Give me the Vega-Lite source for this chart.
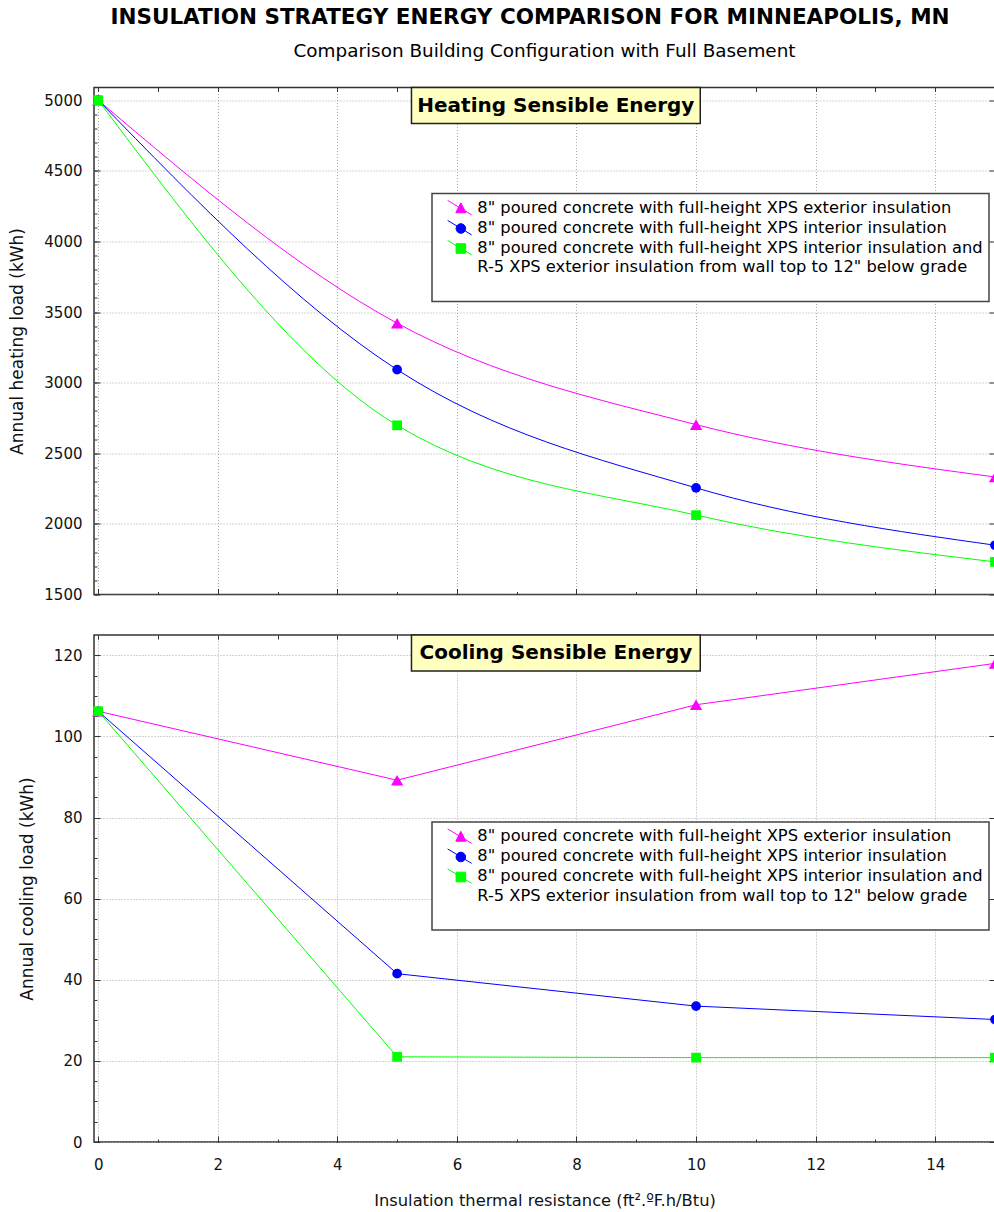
{
  "$schema": "https://vega.github.io/schema/vega-lite/v6.json",
  "padding": {"left": 8, "top": 6.5, "right": 0, "bottom": 0},
  "background": "white",
  "title": {
    "text": "INSULATION STRATEGY ENERGY COMPARISON FOR MINNEAPOLIS, MN",
    "font": "DejaVu Sans", "fontSize": 21.5, "fontWeight": "bold", "color": "#000",
    "anchor": "middle", "offset": 13, "dx": 25
  },
  "config": {
    "font": "DejaVu Sans",
    "view": {"stroke": "#333", "strokeWidth": 1.5},
    "axis": {"labelColor": "#111", "titleColor": "#111", "tickColor": "#333", "domain": false}
  },
  "datasets": {
    "heating": [
      {"series": "8\" poured concrete with full-height XPS exterior insulation", "r": 0, "load": 5000},
      {"series": "8\" poured concrete with full-height XPS exterior insulation", "r": 5, "load": 3421},
      {"series": "8\" poured concrete with full-height XPS exterior insulation", "r": 10, "load": 2703},
      {"series": "8\" poured concrete with full-height XPS exterior insulation", "r": 15, "load": 2332},
      {"series": "8\" poured concrete with full-height XPS interior insulation", "r": 0, "load": 5000},
      {"series": "8\" poured concrete with full-height XPS interior insulation", "r": 5, "load": 3092},
      {"series": "8\" poured concrete with full-height XPS interior insulation", "r": 10, "load": 2255},
      {"series": "8\" poured concrete with full-height XPS interior insulation", "r": 15, "load": 1849},
      {"series": "8\" poured concrete with full-height XPS interior insulation and R-5 XPS exterior insulation from wall top to  12\" below grade", "r": 0, "load": 5000},
      {"series": "8\" poured concrete with full-height XPS interior insulation and R-5 XPS exterior insulation from wall top to  12\" below grade", "r": 5, "load": 2698},
      {"series": "8\" poured concrete with full-height XPS interior insulation and R-5 XPS exterior insulation from wall top to  12\" below grade", "r": 10, "load": 2062},
      {"series": "8\" poured concrete with full-height XPS interior insulation and R-5 XPS exterior insulation from wall top to  12\" below grade", "r": 15, "load": 1731}
    ],
    "cooling": [
      {"series": "8\" poured concrete with full-height XPS exterior insulation", "r": 0, "load": 106.2},
      {"series": "8\" poured concrete with full-height XPS exterior insulation", "r": 5, "load": 89.2},
      {"series": "8\" poured concrete with full-height XPS exterior insulation", "r": 10, "load": 107.8},
      {"series": "8\" poured concrete with full-height XPS exterior insulation", "r": 15, "load": 118.0},
      {"series": "8\" poured concrete with full-height XPS interior insulation", "r": 0, "load": 106.2},
      {"series": "8\" poured concrete with full-height XPS interior insulation", "r": 5, "load": 41.5},
      {"series": "8\" poured concrete with full-height XPS interior insulation", "r": 10, "load": 33.5},
      {"series": "8\" poured concrete with full-height XPS interior insulation", "r": 15, "load": 30.2},
      {"series": "8\" poured concrete with full-height XPS interior insulation and R-5 XPS exterior insulation from wall top to  12\" below grade", "r": 0, "load": 106.2},
      {"series": "8\" poured concrete with full-height XPS interior insulation and R-5 XPS exterior insulation from wall top to  12\" below grade", "r": 5, "load": 21.0},
      {"series": "8\" poured concrete with full-height XPS interior insulation and R-5 XPS exterior insulation from wall top to  12\" below grade", "r": 10, "load": 20.8},
      {"series": "8\" poured concrete with full-height XPS interior insulation and R-5 XPS exterior insulation from wall top to  12\" below grade", "r": 15, "load": 20.8}
    ]
  },
  "resolve": {"scale": {"color": "independent", "shape": "independent"}},
  "spacing": 29.5,
  "vconcat": [
    {
      "width": 901, "height": 507,
      "title": {"text": "Comparison Building Configuration with Full Basement", "fontSize": 18.4, "fontWeight": "normal", "color": "#000", "anchor": "middle", "offset": 26},
      "data": {"name": "heating"},
      "resolve": {"axis": {"x": "independent", "y": "independent"}},
      "layer": [
        {
          "mark": {"type": "line", "interpolate": "monotone", "strokeWidth": 1},
          "encoding": {
            "x": {"field": "r", "type": "quantitative", "scale": {"domain": [-0.07, 15], "nice": false, "zero": false},
              "axis": {"orient": "bottom", "values": [0, 2, 4, 6, 8, 10, 12, 14], "labels": false, "title": null, "grid": true, "gridColor": "#aaaaaa", "gridDash": [1, 2], "tickSize": -6}},
            "y": {"field": "load", "type": "quantitative", "scale": {"domain": [1500, 5090], "nice": false, "zero": false},
              "axis": {"orient": "left", "values": [1500, 2000, 2500, 3000, 3500, 4000, 4500, 5000], "format": "d", "grid": true, "gridColor": "#aaaaaa", "gridDash": [1, 2], "tickSize": -6, "labelPadding": 18, "labelFontSize": 15, "title": "Annual heating load (kWh)", "titleFontSize": 17, "titleFontWeight": "normal", "titlePadding": 17}},
            "color": {"field": "series", "type": "nominal", "scale": {"range": ["#FF00FF", "#0000FF", "#00FF00"]},
              "legend": {"orient": "none", "legendX": 338, "legendY": 106, "title": null, "fillColor": "white", "strokeColor": "#444", "padding": 6, "labelFontSize": 16.3, "labelColor": "#000", "labelLimit": 800, "symbolSize": 144, "rowPadding": 0, "symbolOffset": 13.5, "labelOffset": 9.5,
                "labelExpr": "indexof(datum.label, 'R-5') > 0 ? [substring(datum.label, 0, indexof(datum.label, ' R-5')), substring(datum.label, indexof(datum.label, 'R-5')), ' '] : datum.label",
                "encode": {
                  "labels": {"update": {"baseline": {"value": "top"}, "dy": {"value": -8}, "lineHeight": {"value": 19.5}}},
                  "symbols": {"update": {
                    "shape": {"signal": "indexof(datum.value, 'R-5') >= 0 ? 'M-2,-1.2L2,1.2M-0.6,-0.66L1,-0.66L1,0.94L-0.6,0.94Z' : (indexof(datum.value, 'exterior') >= 0 ? 'M-2,-1.2L2,1.2M0.2,-0.8L1.04,0.84L-0.64,0.84Z' : 'M-2,-1.2L2,1.2M-0.6,0.14A0.8,0.8 0 1,0 1,0.14A0.8,0.8 0 1,0 -0.6,0.14Z')"},
                    "fill": {"signal": "indexof(datum.value, 'R-5') >= 0 ? '#00FF00' : (indexof(datum.value, 'exterior') >= 0 ? '#FF00FF' : '#0000FF')"},
                    "stroke": {"signal": "indexof(datum.value, 'R-5') >= 0 ? '#00FF00' : (indexof(datum.value, 'exterior') >= 0 ? '#FF00FF' : '#0000FF')"},
                    "strokeWidth": {"value": 1}, "opacity": {"value": 1}}},
                  "legend": {"update": {"strokeWidth": {"value": 1.5}}}}}}
          }
        },
        {
          "mark": {"type": "point", "filled": true, "opacity": 1},
          "encoding": {
            "x": {"field": "r", "type": "quantitative",
              "axis": {"orient": "bottom", "values": [0, 1, 2, 3, 4, 5, 6, 7, 8, 9, 10, 11, 12, 13, 14, 15], "labels": false, "title": null, "grid": false, "tickSize": -3}},
            "y": {"field": "load", "type": "quantitative",
              "axis": {"orient": "left", "values": [1500, 1600, 1700, 1800, 1900, 2000, 2100, 2200, 2300, 2400, 2500, 2600, 2700, 2800, 2900, 3000, 3100, 3200, 3300, 3400, 3500, 3600, 3700, 3800, 3900, 4000, 4100, 4200, 4300, 4400, 4500, 4600, 4700, 4800, 4900, 5000], "labels": false, "title": null, "grid": false, "tickSize": -3}},
            "size": {"condition": {"test": "indexof(datum.series, 'exterior insulation') > 0 && indexof(datum.series, 'R-5') < 0", "value": 150}, "value": 95},
            "color": {"field": "series", "type": "nominal",
              "legend": {"orient": "none", "legendX": 338, "legendY": 106, "title": null, "fillColor": "white", "strokeColor": "#444", "padding": 6, "labelFontSize": 16.3, "labelColor": "#000", "labelLimit": 800, "symbolSize": 144, "rowPadding": 0, "symbolOffset": 13.5, "labelOffset": 9.5,
                "labelExpr": "indexof(datum.label, 'R-5') > 0 ? [substring(datum.label, 0, indexof(datum.label, ' R-5')), substring(datum.label, indexof(datum.label, 'R-5')), ' '] : datum.label",
                "encode": {
                  "labels": {"update": {"baseline": {"value": "top"}, "dy": {"value": -8}, "lineHeight": {"value": 19.5}}},
                  "symbols": {"update": {
                    "shape": {"signal": "indexof(datum.value, 'R-5') >= 0 ? 'M-2,-1.2L2,1.2M-0.6,-0.66L1,-0.66L1,0.94L-0.6,0.94Z' : (indexof(datum.value, 'exterior') >= 0 ? 'M-2,-1.2L2,1.2M0.2,-0.8L1.04,0.84L-0.64,0.84Z' : 'M-2,-1.2L2,1.2M-0.6,0.14A0.8,0.8 0 1,0 1,0.14A0.8,0.8 0 1,0 -0.6,0.14Z')"},
                    "fill": {"signal": "indexof(datum.value, 'R-5') >= 0 ? '#00FF00' : (indexof(datum.value, 'exterior') >= 0 ? '#FF00FF' : '#0000FF')"},
                    "stroke": {"signal": "indexof(datum.value, 'R-5') >= 0 ? '#00FF00' : (indexof(datum.value, 'exterior') >= 0 ? '#FF00FF' : '#0000FF')"},
                    "strokeWidth": {"value": 1}, "opacity": {"value": 1}}},
                  "legend": {"update": {"strokeWidth": {"value": 1.5}}}}}},
            "shape": {"field": "series", "type": "nominal", "scale": {"range": ["triangle-up", "circle", "square"]}, "legend": null}
          }
        },
        {
          "data": {"values": [{"label": "Heating Sensible Energy"}]},
          "mark": {"type": "rect", "fill": "#FFFFC0", "stroke": "#222", "strokeWidth": 1.5},
          "encoding": {
            "x": {"datum": 5.24, "type": "quantitative", "axis": {"orient": "top", "values": [0, 1, 2, 3, 4, 5, 6, 7, 8, 9, 10, 11, 12, 13, 14, 15], "labels": false, "title": null, "grid": false, "tickSize": -4}},
            "x2": {"datum": 10.07},
            "y": {"datum": 5090, "type": "quantitative", "axis": {"orient": "right", "values": [1500, 2000, 2500, 3000, 3500, 4000, 4500, 5000], "labels": false, "title": null, "grid": false, "tickSize": -6}},
            "y2": {"datum": 4835}
          }
        },
        {
          "data": {"values": [{"label": "Heating Sensible Energy"}]},
          "mark": {"type": "text", "fontSize": 20, "fontWeight": "bold", "color": "#000", "baseline": "middle", "align": "center"},
          "encoding": {
            "x": {"datum": 7.655, "type": "quantitative", "axis": null},
            "y": {"datum": 4962, "type": "quantitative", "axis": null},
            "text": {"field": "label"}
          }
        }
      ]
    },
    {
      "width": 901, "height": 507,
      "data": {"name": "cooling"},
      "resolve": {"axis": {"x": "independent", "y": "independent"}},
      "layer": [
        {
          "mark": {"type": "line", "interpolate": "linear", "strokeWidth": 1},
          "encoding": {
            "x": {"field": "r", "type": "quantitative", "scale": {"domain": [-0.07, 15], "nice": false, "zero": false},
              "axis": {"orient": "bottom", "values": [0, 2, 4, 6, 8, 10, 12, 14], "labels": true, "labelFontSize": 15, "labelPadding": 21, "title": "Insulation thermal resistance (ft².ºF.h/Btu)", "titleFontSize": 16.3, "titleFontWeight": "normal", "titlePadding": 20, "grid": true, "gridColor": "#aaaaaa", "gridDash": [1, 2], "tickSize": -6}},
            "y": {"field": "load", "type": "quantitative", "scale": {"domain": [0, 125], "nice": false, "zero": false},
              "axis": {"orient": "left", "values": [0, 20, 40, 60, 80, 100, 120], "format": "d", "grid": true, "gridColor": "#aaaaaa", "gridDash": [1, 2], "tickSize": -6, "labelPadding": 18, "labelFontSize": 15, "title": "Annual cooling load (kWh)", "titleFontSize": 17, "titleFontWeight": "normal", "titlePadding": 17}},
            "color": {"field": "series", "type": "nominal", "scale": {"range": ["#FF00FF", "#0000FF", "#00FF00"]},
              "legend": {"orient": "none", "legendX": 338, "legendY": 187, "title": null, "fillColor": "white", "strokeColor": "#444", "padding": 6, "labelFontSize": 16.3, "labelColor": "#000", "labelLimit": 800, "symbolSize": 144, "rowPadding": 0, "symbolOffset": 13.5, "labelOffset": 9.5,
                "labelExpr": "indexof(datum.label, 'R-5') > 0 ? [substring(datum.label, 0, indexof(datum.label, ' R-5')), substring(datum.label, indexof(datum.label, 'R-5')), ' '] : datum.label",
                "encode": {
                  "labels": {"update": {"baseline": {"value": "top"}, "dy": {"value": -8}, "lineHeight": {"value": 19.5}}},
                  "symbols": {"update": {
                    "shape": {"signal": "indexof(datum.value, 'R-5') >= 0 ? 'M-2,-1.2L2,1.2M-0.6,-0.66L1,-0.66L1,0.94L-0.6,0.94Z' : (indexof(datum.value, 'exterior') >= 0 ? 'M-2,-1.2L2,1.2M0.2,-0.8L1.04,0.84L-0.64,0.84Z' : 'M-2,-1.2L2,1.2M-0.6,0.14A0.8,0.8 0 1,0 1,0.14A0.8,0.8 0 1,0 -0.6,0.14Z')"},
                    "fill": {"signal": "indexof(datum.value, 'R-5') >= 0 ? '#00FF00' : (indexof(datum.value, 'exterior') >= 0 ? '#FF00FF' : '#0000FF')"},
                    "stroke": {"signal": "indexof(datum.value, 'R-5') >= 0 ? '#00FF00' : (indexof(datum.value, 'exterior') >= 0 ? '#FF00FF' : '#0000FF')"},
                    "strokeWidth": {"value": 1}, "opacity": {"value": 1}}},
                  "legend": {"update": {"strokeWidth": {"value": 1.5}}}}}}
          }
        },
        {
          "mark": {"type": "point", "filled": true, "opacity": 1},
          "encoding": {
            "x": {"field": "r", "type": "quantitative",
              "axis": {"orient": "bottom", "values": [0, 1, 2, 3, 4, 5, 6, 7, 8, 9, 10, 11, 12, 13, 14, 15], "labels": false, "title": null, "grid": false, "tickSize": -3}},
            "y": {"field": "load", "type": "quantitative",
              "axis": {"orient": "left", "values": [0, 5, 10, 15, 20, 25, 30, 35, 40, 45, 50, 55, 60, 65, 70, 75, 80, 85, 90, 95, 100, 105, 110, 115, 120], "labels": false, "title": null, "grid": false, "tickSize": -3}},
            "size": {"condition": {"test": "indexof(datum.series, 'exterior insulation') > 0 && indexof(datum.series, 'R-5') < 0", "value": 150}, "value": 95},
            "color": {"field": "series", "type": "nominal",
              "legend": {"orient": "none", "legendX": 338, "legendY": 187, "title": null, "fillColor": "white", "strokeColor": "#444", "padding": 6, "labelFontSize": 16.3, "labelColor": "#000", "labelLimit": 800, "symbolSize": 144, "rowPadding": 0, "symbolOffset": 13.5, "labelOffset": 9.5,
                "labelExpr": "indexof(datum.label, 'R-5') > 0 ? [substring(datum.label, 0, indexof(datum.label, ' R-5')), substring(datum.label, indexof(datum.label, 'R-5')), ' '] : datum.label",
                "encode": {
                  "labels": {"update": {"baseline": {"value": "top"}, "dy": {"value": -8}, "lineHeight": {"value": 19.5}}},
                  "symbols": {"update": {
                    "shape": {"signal": "indexof(datum.value, 'R-5') >= 0 ? 'M-2,-1.2L2,1.2M-0.6,-0.66L1,-0.66L1,0.94L-0.6,0.94Z' : (indexof(datum.value, 'exterior') >= 0 ? 'M-2,-1.2L2,1.2M0.2,-0.8L1.04,0.84L-0.64,0.84Z' : 'M-2,-1.2L2,1.2M-0.6,0.14A0.8,0.8 0 1,0 1,0.14A0.8,0.8 0 1,0 -0.6,0.14Z')"},
                    "fill": {"signal": "indexof(datum.value, 'R-5') >= 0 ? '#00FF00' : (indexof(datum.value, 'exterior') >= 0 ? '#FF00FF' : '#0000FF')"},
                    "stroke": {"signal": "indexof(datum.value, 'R-5') >= 0 ? '#00FF00' : (indexof(datum.value, 'exterior') >= 0 ? '#FF00FF' : '#0000FF')"},
                    "strokeWidth": {"value": 1}, "opacity": {"value": 1}}},
                  "legend": {"update": {"strokeWidth": {"value": 1.5}}}}}},
            "shape": {"field": "series", "type": "nominal", "scale": {"range": ["triangle-up", "circle", "square"]}, "legend": null}
          }
        },
        {
          "data": {"values": [{"label": "Cooling Sensible Energy"}]},
          "mark": {"type": "rect", "fill": "#FFFFC0", "stroke": "#222", "strokeWidth": 1.5},
          "encoding": {
            "x": {"datum": 5.24, "type": "quantitative", "axis": {"orient": "top", "values": [0, 1, 2, 3, 4, 5, 6, 7, 8, 9, 10, 11, 12, 13, 14, 15], "labels": false, "title": null, "grid": false, "tickSize": -4}},
            "x2": {"datum": 10.07},
            "y": {"datum": 125, "type": "quantitative", "axis": {"orient": "right", "values": [0, 20, 40, 60, 80, 100, 120], "labels": false, "title": null, "grid": false, "tickSize": -6}},
            "y2": {"datum": 116.1}
          }
        },
        {
          "data": {"values": [{"label": "Cooling Sensible Energy"}]},
          "mark": {"type": "text", "fontSize": 20, "fontWeight": "bold", "color": "#000", "baseline": "middle", "align": "center"},
          "encoding": {
            "x": {"datum": 7.655, "type": "quantitative", "axis": null},
            "y": {"datum": 120.5, "type": "quantitative", "axis": null},
            "text": {"field": "label"}
          }
        }
      ]
    }
  ]
}
